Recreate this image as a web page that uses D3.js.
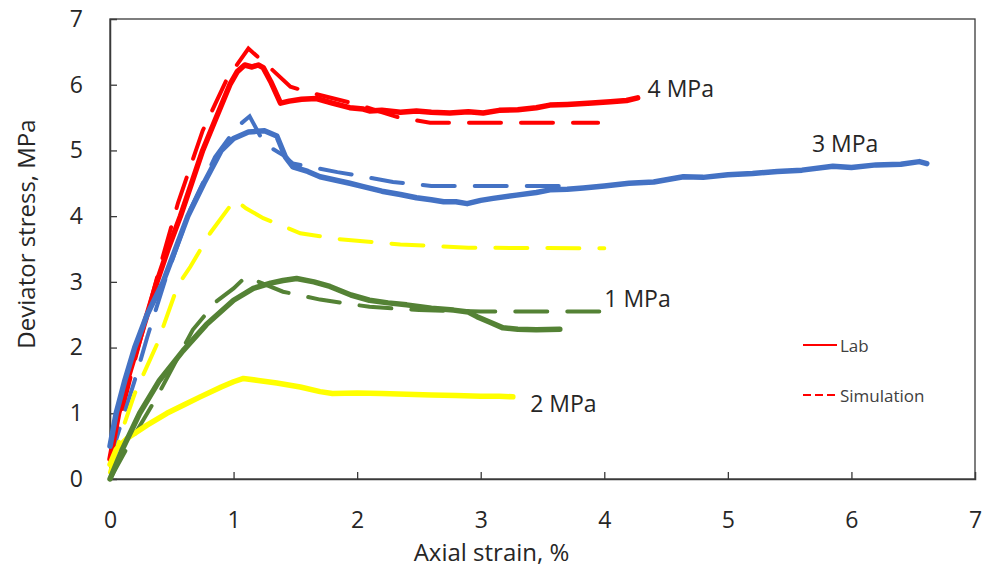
<!DOCTYPE html>
<html>
<head>
<meta charset="utf-8">
<script src="https://cdn.jsdelivr.net/npm/d3@7"></script>
<style>
  html, body { margin: 0; padding: 0; background: #fff; }
  svg { display: block; font-family: "Open Sans", "Liberation Sans", sans-serif; }
</style>
</head>
<body>
<svg id="chart" width="986" height="575"></svg>
<script>
// ---------- data (axial strain %, deviator stress MPa) ----------
const xTicks = [0, 1, 2, 3, 4, 5, 6, 7];
const yTicks = [0, 1, 2, 3, 4, 5, 6, 7];

const lab4 = [[0,0.3],[0.03,0.6],[0.07,1.0],[0.14,1.5],[0.22,2.0],[0.3,2.5],[0.38,3.0],[0.47,3.5],[0.57,4.0],[0.66,4.5],[0.75,5.0],[0.86,5.5],[0.97,6.0],[1.03,6.2],[1.09,6.3],[1.15,6.27],[1.2,6.3],[1.24,6.26],[1.3,6.05],[1.38,5.72],[1.45,5.75],[1.55,5.78],[1.67,5.79],[1.8,5.72],[1.94,5.65],[2.05,5.63],[2.1,5.6],[2.2,5.61],[2.35,5.58],[2.48,5.6],[2.6,5.58],[2.75,5.57],[2.9,5.59],[3.02,5.57],[3.15,5.61],[3.3,5.62],[3.45,5.65],[3.56,5.69],[3.7,5.7],[3.9,5.72],[4.05,5.74],[4.18,5.76],[4.27,5.8]];
const sim4 = [[0,0.3],[0.2,1.8],[0.4,3.2],[0.55,4.2],[0.75,5.3],[0.95,6.1],[1.12,6.55],[1.3,6.25],[1.46,5.97],[1.62,5.88],[2.0,5.7],[2.32,5.51],[2.59,5.42],[3.0,5.42],[3.95,5.42]];

const lab3 = [[0,0.5],[0.05,1.0],[0.12,1.5],[0.2,2.0],[0.3,2.5],[0.43,3.0],[0.53,3.5],[0.63,4.0],[0.76,4.5],[0.9,5.0],[1.0,5.18],[1.12,5.28],[1.25,5.3],[1.35,5.22],[1.42,4.9],[1.48,4.75],[1.6,4.68],[1.7,4.6],[1.82,4.55],[1.94,4.5],[2.05,4.45],[2.2,4.38],[2.35,4.33],[2.48,4.28],[2.6,4.25],[2.7,4.22],[2.8,4.22],[2.89,4.19],[3.0,4.24],[3.1,4.27],[3.29,4.32],[3.45,4.36],[3.56,4.4],[3.7,4.41],[3.83,4.43],[4.0,4.46],[4.2,4.5],[4.4,4.52],[4.64,4.6],[4.8,4.59],[5.0,4.63],[5.2,4.65],[5.4,4.68],[5.6,4.7],[5.85,4.76],[6.0,4.74],[6.2,4.78],[6.4,4.79],[6.55,4.83],[6.61,4.8]];
const sim3 = [[0,0.3],[0.1,0.9],[0.2,1.5],[0.3,2.15],[0.45,3.05],[0.65,4.1],[0.85,4.9],[1.03,5.36],[1.13,5.52],[1.25,5.1],[1.4,4.93],[1.48,4.8],[1.84,4.67],[2.0,4.62],[2.29,4.52],[2.6,4.46],[3.0,4.46],[3.68,4.46]];

const lab2 = [[0,0.22],[0.05,0.45],[0.14,0.62],[0.3,0.82],[0.46,1.0],[0.6,1.13],[0.73,1.25],[0.9,1.4],[1.0,1.48],[1.08,1.53],[1.2,1.5],[1.35,1.46],[1.54,1.4],[1.7,1.33],[1.8,1.3],[2.0,1.31],[2.2,1.3],[2.4,1.29],[2.6,1.28],[2.8,1.27],[3.0,1.26],[3.15,1.26],[3.26,1.25]];
const sim2 = [[0,0.1],[0.1,0.75],[0.2,1.3],[0.38,2.05],[0.55,2.95],[0.65,3.23],[0.81,3.74],[1.01,4.25],[1.1,4.12],[1.24,3.97],[1.54,3.74],[1.85,3.65],[2.35,3.57],[2.9,3.52],[4.0,3.51]];

const lab1 = [[0,0],[0.1,0.45],[0.24,1.0],[0.4,1.5],[0.59,1.95],[0.78,2.35],[1.0,2.72],[1.16,2.9],[1.3,2.98],[1.4,3.02],[1.51,3.05],[1.65,3.0],[1.78,2.93],[1.95,2.8],[2.1,2.72],[2.25,2.68],[2.4,2.65],[2.6,2.6],[2.78,2.57],[2.9,2.54],[2.97,2.47],[3.08,2.38],[3.18,2.3],[3.3,2.28],[3.45,2.27],[3.64,2.28]];
const sim1 = [[0,0],[0.16,0.55],[0.38,1.25],[0.55,1.85],[0.67,2.27],[0.86,2.7],[1.0,2.9],[1.1,3.08],[1.4,2.85],[1.7,2.73],[2.1,2.62],[2.5,2.57],[3.0,2.55],[3.98,2.55]];

const seriesLab = [
  { name: "4 MPa", color: "#FF0000", data: lab4 },
  { name: "3 MPa", color: "#4472C4", data: lab3 },
  { name: "2 MPa", color: "#FFFF00", data: lab2 },
  { name: "1 MPa", color: "#548235", data: lab1 }
];
const seriesSim = [
  { name: "4 MPa", color: "#FF0000", data: sim4 },
  { name: "3 MPa", color: "#4472C4", data: sim3 },
  { name: "2 MPa", color: "#FFFF00", data: sim2 },
  { name: "1 MPa", color: "#548235", data: sim1 }
];
const curveLabels = [
  { text: "4 MPa", x: 4.35, y: 5.95 },
  { text: "3 MPa", x: 5.68, y: 5.12 },
  { text: "1 MPa", x: 4.0, y: 2.76 },
  { text: "2 MPa", x: 3.4, y: 1.16 }
];

// ---------- drawing ----------
const svg = d3.select("#chart");
const x = d3.scaleLinear().domain([0, 7]).range([110, 975]);
const y = d3.scaleLinear().domain([0, 7]).range([479, 19]);

const axisColor = "#3a3a3a";
const textColor = "#262626";

// frame
svg.append("rect")
  .attr("x", x(0)).attr("y", y(7))
  .attr("width", x(7) - x(0)).attr("height", y(0) - y(7))
  .attr("fill", "none").attr("stroke", axisColor).attr("stroke-width", 1.3);

// axes (ticks inside)
const xAxis = svg.append("g").attr("transform", `translate(0,${y(0)})`)
  .call(d3.axisBottom(x).tickValues(xTicks).tickSize(-7).tickPadding(33).tickFormat(d3.format("d")));
const yAxis = svg.append("g").attr("transform", `translate(${x(0)},0)`)
  .call(d3.axisLeft(y).tickValues(yTicks).tickSize(-7).tickPadding(27).tickFormat(d3.format("d")));
[xAxis, yAxis].forEach(g => {
  g.select(".domain").attr("stroke", axisColor).attr("stroke-width", 1.5);
  g.selectAll(".tick line").attr("stroke", axisColor).attr("stroke-width", 1.3);
  g.selectAll(".tick text").attr("fill", textColor)
    .style("font-size", "23px").style("font-family", "'Open Sans', sans-serif");
});
xAxis.selectAll(".tick line").filter(d => d === 0 || d === 7).remove();
yAxis.selectAll(".tick line").filter(d => d === 0 || d === 7).remove();

// lines
const line = d3.line().x(d => x(d[0])).y(d => y(d[1])).curve(d3.curveLinear);

svg.append("g").selectAll("path.sim").data(seriesSim).join("path")
  .attr("class", "sim")
  .attr("d", d => line(d.data))
  .attr("fill", "none").attr("stroke", d => d.color)
  .attr("stroke-width", 4).attr("stroke-linecap", "round")
  .attr("stroke-dasharray", "32,20");

svg.append("g").selectAll("path.lab").data(seriesLab).join("path")
  .attr("class", "lab")
  .attr("d", d => line(d.data))
  .attr("fill", "none").attr("stroke", d => d.color)
  .attr("stroke-width", 5.5).attr("stroke-linejoin", "round").attr("stroke-linecap", "round");

// curve labels
svg.append("g").selectAll("text").data(curveLabels).join("text")
  .attr("x", d => x(d.x)).attr("y", d => y(d.y))
  .attr("dominant-baseline", "central")
  .attr("fill", textColor)
  .style("font-size", "23px")
  .text(d => d.text);

// axis titles
svg.append("text")
  .attr("x", (x(0) + x(7)) / 2 - 51).attr("y", 551)
  .attr("text-anchor", "middle").attr("dominant-baseline", "central")
  .attr("fill", textColor).style("font-size", "24px")
  .text("Axial strain, %");
svg.append("text")
  .attr("transform", `translate(25,234) rotate(-90)`)
  .attr("text-anchor", "middle").attr("dominant-baseline", "central")
  .attr("fill", textColor).style("font-size", "24px")
  .text("Deviator stress, MPa");

// legend
const legend = [
  { label: "Lab", dash: null, ly: 345 },
  { label: "Simulation", dash: "8,4", ly: 395 }
];
const lg = svg.append("g");
legend.forEach(l => {
  lg.append("line").attr("x1", 803).attr("x2", 837).attr("y1", l.ly).attr("y2", l.ly)
    .attr("stroke", "#FF0000").attr("stroke-width", 2.2)
    .attr("stroke-dasharray", l.dash);
  lg.append("text").attr("x", 840).attr("y", l.ly)
    .attr("dominant-baseline", "central").attr("fill", "#404040")
    .style("font-size", "17px").text(l.label);
});
</script>
</body>
</html>
